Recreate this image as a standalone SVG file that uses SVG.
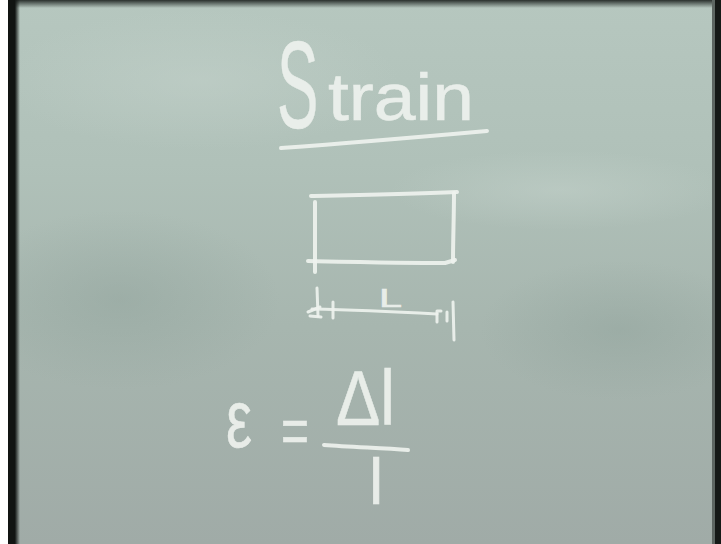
<svg xmlns="http://www.w3.org/2000/svg" width="721" height="544" viewBox="0 0 721 544">
  <defs>
    <linearGradient id="boardGrad" x1="0" y1="0" x2="0" y2="1">
      <stop offset="0" stop-color="#b6c7bf"/>
      <stop offset="0.3" stop-color="#b0c1b9"/>
      <stop offset="0.6" stop-color="#a7b6af"/>
      <stop offset="1" stop-color="#a0aba7"/>
    </linearGradient>
    <linearGradient id="leftEdge" x1="0" y1="0" x2="1" y2="0">
      <stop offset="0" stop-color="#141816"/>
      <stop offset="1" stop-color="#141816" stop-opacity="0"/>
    </linearGradient>
    <linearGradient id="topEdge" x1="0" y1="0" x2="0" y2="1">
      <stop offset="0" stop-color="#2a302d"/>
      <stop offset="1" stop-color="#2a302d" stop-opacity="0"/>
    </linearGradient>
    <radialGradient id="darkPatch" cx="0.5" cy="0.5" r="0.5">
      <stop offset="0" stop-color="#8c9f98" stop-opacity="0.4"/>
      <stop offset="1" stop-color="#8c9f98" stop-opacity="0"/>
    </radialGradient>
    <radialGradient id="lightPatch" cx="0.5" cy="0.5" r="0.5">
      <stop offset="0" stop-color="#c4d2cb" stop-opacity="0.5"/>
      <stop offset="1" stop-color="#c4d2cb" stop-opacity="0"/>
    </radialGradient>
    <style>
      .chalk { fill: none; stroke: #eef2ee; stroke-width: 4; stroke-linecap: round; stroke-linejoin: round; opacity: 0.92; }
      .thin { stroke-width: 3; }
      .chalktext { fill: #eef2ee; stroke: #eef2ee; stroke-width: 0.6; opacity: 0.92; font-family: "Liberation Sans", Arial, sans-serif; }
    </style>
  </defs>

  <g id="board">
    <rect x="0" y="0" width="721" height="544" fill="url(#boardGrad)"/>
    <ellipse cx="120" cy="300" rx="160" ry="90" fill="url(#darkPatch)"/>
    <ellipse cx="620" cy="330" rx="140" ry="70" fill="url(#darkPatch)"/>
    <ellipse cx="560" cy="190" rx="170" ry="40" fill="url(#lightPatch)"/>
    <ellipse cx="200" cy="80" rx="200" ry="70" fill="url(#lightPatch)"/>
    <rect x="0" y="0" width="721" height="8" fill="url(#topEdge)"/>
    <rect x="0" y="0" width="8" height="544" fill="#ffffff"/>
    <rect x="8" y="0" width="7" height="544" fill="#111412"/>
    <rect x="15" y="0" width="5" height="544" fill="url(#leftEdge)"/>
    <rect x="712" y="0" width="3" height="544" fill="#5d6662"/>
    <rect x="715" y="0" width="6" height="544" fill="#151917"/>
  </g>

  <g id="title">
    <text class="chalktext" transform="scale(0.5,1)" stroke-width="1"><tspan x="554" y="128" font-size="124">S</tspan><tspan x="656" y="120" font-size="66" textLength="292" lengthAdjust="spacingAndGlyphs">train</tspan></text>
    <path class="chalk" d="M281,148 C350,143 420,137 487,131"/>
  </g>

  <g id="bar">
    <path class="chalk" d="M311,196 C360,195 410,194 457,192"/>
    <path class="chalk" d="M315,202 L315,272"/>
    <path class="chalk" d="M454,193 C454,215 453,240 453,262"/>
    <path class="chalk" d="M308,261 C360,262 410,263 445,263 L455,260"/>
  </g>

  <g id="dimension">
    <text class="chalktext" x="379" y="307" font-size="25" stroke-width="1.2" textLength="23" lengthAdjust="spacingAndGlyphs">L</text>
    <path class="chalk thin" d="M312,309 C360,310 400,312 437,314"/>
    <path class="chalk thin" d="M317,288 L318,316"/>
    <path class="chalk thin" d="M333,302 L333,318"/>
    <path class="chalk thin" d="M308,312 L320,307"/>
    <path class="chalk thin" d="M310,316 L321,317"/>
    <path class="chalk thin" d="M441,311 L437,311 L437,322"/>
    <path class="chalk thin" d="M447,312 L447,321"/>
    <path class="chalk thin" d="M453,302 L454,340"/>
  </g>

  <g id="formula">
    <text class="chalktext" x="226" y="447" font-size="82" textLength="26" lengthAdjust="spacingAndGlyphs">ε</text>
    <text class="chalktext" x="281" y="453" font-size="64" textLength="28" lengthAdjust="spacingAndGlyphs">=</text>
    <text class="chalktext" x="336" y="425" font-size="78" textLength="59" lengthAdjust="spacingAndGlyphs">Δl</text>
    <path class="chalk" d="M324,445 C350,447 380,448 408,450"/>
    <text class="chalktext" x="369" y="504" font-size="64">l</text>
  </g>
</svg>
